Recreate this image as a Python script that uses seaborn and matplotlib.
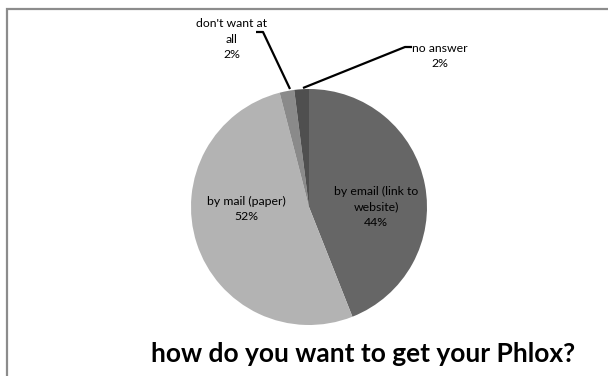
import matplotlib
matplotlib.use("Agg")
import matplotlib.pyplot as plt
import seaborn as sns
from matplotlib.patches import Rectangle

categories = ["by email (link to\nwebsite)", "by mail (paper)", "don't want at\nall", "no answer"]
values = [44, 52, 2, 2]
pct_labels = ["44%", "52%", "2%", "2%"]
colors = ["#666666", "#b3b3b3", "#8a8a8a", "#4f4f4f"]
title = "how do you want to get your Phlox?"

sns.set_theme(style="white")
plt.rcParams['font.family'] = ['Lato', 'DejaVu Sans']

W, H = 608, 376
fig = plt.figure(figsize=(W / 100, H / 100), dpi=100)
fig.patch.set_facecolor("white")

cx, cy, r = 309, 207, 118
ax = fig.add_axes([(cx - r) / W, (H - cy - r) / H, 2 * r / W, 2 * r / H])
ax.pie(values, colors=colors, startangle=90, counterclock=False,
       wedgeprops=dict(linewidth=0))
ax.set_xlim(-1, 1)
ax.set_ylim(-1, 1)
ax.set_aspect("equal")
ax.axis("off")

def d(px, py):
    return ((px - cx) / r, (cy - py) / r)

fs = 8.8
label_pos = [d(376, 207), d(246, 209), d(232, 39), d(440, 56)]
for lab, pct, pos in zip(categories, pct_labels, label_pos):
    ax.text(pos[0], pos[1], lab + "\n" + pct, ha="center", va="center",
            fontsize=fs, color="black", linespacing=1.5, clip_on=False)

# leader lines
x1, y1 = zip(d(256, 32), d(263, 32), d(290, 89))
ax.plot(x1, y1, color="black", lw=1.6, clip_on=False, solid_capstyle="butt")
x2, y2 = zip(d(303, 88), d(405, 47), d(412, 47))
ax.plot(x2, y2, color="black", lw=1.6, clip_on=False, solid_capstyle="butt")

fig.text(363 / W, 1 - 354 / H, title, ha="center", va="center",
         fontsize=19, fontweight="bold", color="black")

fig.patches.append(Rectangle((6.5 / W, -0.1), 1.2, 1 - 9 / H + 0.1,
                             transform=fig.transFigure, fill=False,
                             edgecolor="#8c8c8c", linewidth=1.6))

fig.savefig("out.png", dpi=100)
